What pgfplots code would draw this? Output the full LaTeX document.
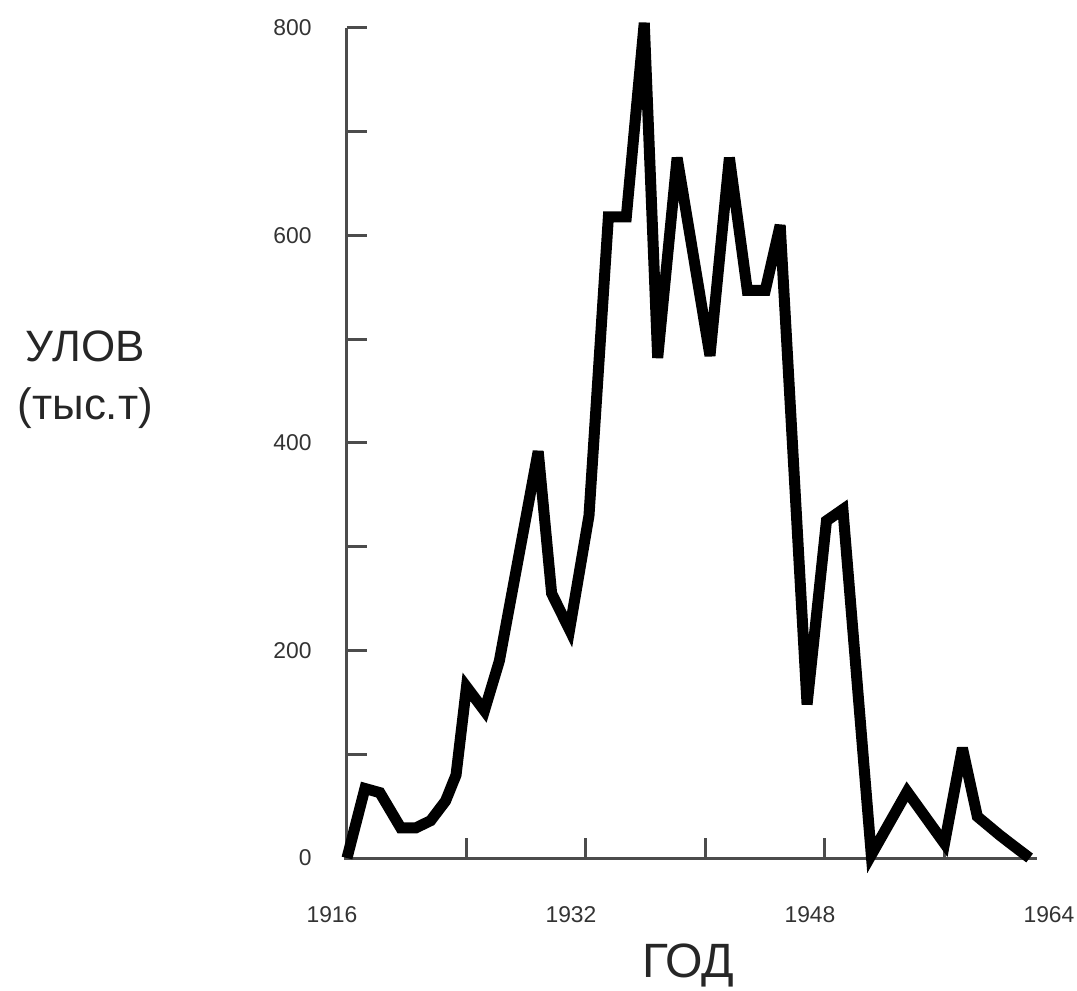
\documentclass[border=0pt]{standalone}
\usepackage{fontspec}
\setmainfont{Liberation Sans}
\usepackage{pgfplots}
\pgfplotsset{compat=1.18}

\begin{document}
\begin{tikzpicture}
% page frame, 1 px of the reference = 0.1 mm
\useasboundingbox (-34.7mm,-13.2mm) rectangle (73.0mm,85.8mm);
\begin{axis}[
  at={(0,0)}, anchor=south west,
  scale only axis, width=71.7mm, height=83mm,
  xmin=1916, xmax=1964, ymin=0, ymax=800,
  axis lines=left,
  axis line style={-, line width=0.3mm, black!70},
  x axis line style={draw=none},
  tick align=inside,
  major tick length=2mm,
  tick style={line width=0.3mm, black!70},
  ytick={0,100,...,800},
  yticklabels={0,,200,,400,,600,,800},
  xtick={1924,1932,1940,1948,1956},
  xticklabels={,,,,},
  extra x ticks={1916,1932,1948,1964},
  extra x tick labels={1916,1932,1948,1964},
  extra x tick style={major tick length=0pt},
  tick label style={font=\fontsize{6.5}{7}\selectfont, text=black!80},
  xticklabel style={anchor=center, yshift=-5.7mm, xshift=-1.5mm},
  yticklabel style={anchor=east, xshift=-2.3mm},
  xlabel={ГОД},
  ylabel={УЛОВ\\(тыс.т)},
  every axis x label/.style={at={(axis description cs:0.476,-0.129)}, anchor=center,
    font=\fontsize{13.7}{16}\selectfont, text=black!85},
  every axis y label/.style={at={(axis description cs:-0.365,0.576)}, anchor=center,
    align=center, font=\fontsize{12.5}{16.5}\selectfont, text=black!85},
  clip=false,
]
\draw[line width=0.3mm, black!70] (axis cs:1915.8,0) -- (axis cs:1962.2,0);
\addplot[black, line width=1.1mm, line join=miter, miter limit=5, mark=none] coordinates {
  (1916.0,0) (1917.2,67) (1918.2,63) (1919.6,29) (1920.6,29) (1921.6,36)
  (1922.6,55) (1923.3,80) (1924.0,165) (1925.2,142) (1926.2,190)
  (1928.8,392) (1929.7,255) (1930.9,220) (1932.2,330) (1933.5,618)
  (1934.7,618) (1935.9,805) (1936.8,482) (1938.1,675) (1940.3,484)
  (1941.6,675) (1942.8,547) (1944.0,547) (1945.0,610) (1946.8,148)
  (1948.1,325) (1949.2,336) (1951.1,3) (1953.5,64) (1956.0,14)
  (1957.2,106) (1958.2,40) (1959.7,22) (1960.6,12) (1961.7,0)
};
\end{axis}
\end{tikzpicture}
\end{document}
